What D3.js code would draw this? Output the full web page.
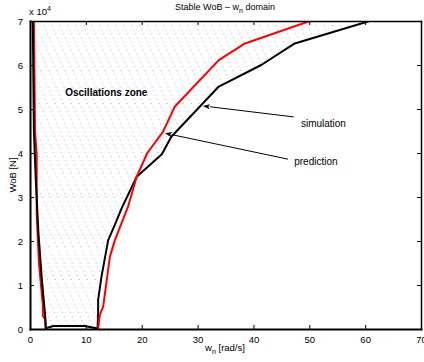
<!DOCTYPE html>
<html>
<head>
<meta charset="utf-8">
<script src="https://cdn.jsdelivr.net/npm/d3@7"></script>
<style>
  html, body { margin: 0; padding: 0; background: #fff; }
  svg { display: block; font-family: "Liberation Sans", Arial, Helvetica, sans-serif; }
</style>
</head>
<body>
<svg id="chart" width="424" height="362"></svg>
<script>
// Simulated stability boundary (w_n in rad/s, WoB in units of 1e4 N)
const simW   = [0.5, 0.7, 1.0, 1.5, 2.1, 2.7, 2.85, 4.2, 9.8, 11.9, 12.1, 12.2, 12.2, 12.8, 14.0, 15.3, 16.4, 19.1, 21.4, 23.6, 25.3, 33.8, 41.4, 47.4, 60.8];
const simWoB = [7.0, 4.5, 3.5, 2.2, 1.16, 0.32, 0.02, 0.07, 0.07, 0.015, 0.02, 0.36, 0.66, 1.19, 2.02, 2.4, 2.74, 3.46, 3.72, 3.97, 4.37, 5.51, 6.0, 6.49, 7.0];

// Predicted boundary, left branch
const predLeftW   = [0.7, 0.9, 1.2, 1.2, 1.6, 2.3, 2.3, 2.7, 2.8];
const predLeftWoB = [7.0, 4.5, 3.95, 2.6, 1.5, 0.55, 0.3, 0.23, 0.0];

// Predicted boundary, right branch
const predRightW   = [50.1, 38.5, 33.8, 25.9, 23.8, 21.0, 19.1, 17.6, 15.2, 14.3, 13.1, 12.5, 12.2];
const predRightWoB = [7.0, 6.49, 6.11, 5.05, 4.48, 4.0, 3.46, 2.8, 2.02, 1.64, 0.51, 0.32, 0.0];

const xTicks = [0, 10, 20, 30, 40, 50, 60, 70];
const yTicks = [0, 1, 2, 3, 4, 5, 6, 7];

// Annotation anchors in data units
const simArrow  = { tail: [47.2, 4.82], head: [30.95, 5.07], text: "simulation", at: [48.5, 4.6] };
const predArrow = { tail: [46.2, 3.86], head: [24.15, 4.45], text: "prediction", at: [47.3, 3.72] };
const zoneLabel = { text: "Oscillations zone", at: [6.3, 5.3] };

const svg = d3.select("#chart");
const pL = 30, pR = 421, pT = 21, pB = 329;

const x = d3.scaleLinear().domain([0, 70]).range([pL, pR]);
const y = d3.scaleLinear().domain([0, 7]).range([pB, pT]);

const toPts = (ws, vs) => ws.map((w, i) => [w, vs[i]]);
const line = d3.line().x(d => x(d[0])).y(d => y(d[1]));

const simPts = toPts(simW, simWoB);

// Hatched oscillation zone: area enclosed by the simulated boundary and the top edge
const defs = svg.append("defs");
defs.append("clipPath").attr("id", "zone")
  .append("path").attr("d", line(simPts) + "Z");
defs.append("clipPath").attr("id", "plot")
  .append("rect").attr("x", pL).attr("y", pT).attr("width", pR - pL).attr("height", pB - pT);

const hatch = svg.append("g").attr("clip-path", "url(#zone)");
const slope = 2.2;       // dy/dx of hatch lines
const gap = 8;           // horizontal spacing
const hh = pB - pT;
for (let sx = pL - hh / slope; sx < pR + 10; sx += gap) {
  hatch.append("line")
    .attr("x1", sx).attr("y1", pT)
    .attr("x2", sx + hh / slope).attr("y2", pB)
    .attr("stroke", "#5a5aff")
    .attr("stroke-width", 0.9)
    .attr("stroke-opacity", 0.6)
    .attr("stroke-dasharray", "1,3.5");
}

// Curves
const curves = svg.append("g").attr("clip-path", "url(#plot)");
curves.append("path").attr("d", line(toPts(predLeftW, predLeftWoB)))
  .attr("fill", "none").attr("stroke", "#ff0000").attr("stroke-width", 2).attr("stroke-linejoin", "round");
curves.append("path").attr("d", line(simPts))
  .attr("fill", "none").attr("stroke", "#000").attr("stroke-width", 2).attr("stroke-linejoin", "round");
curves.append("path").attr("d", line(toPts(predRightW, predRightWoB)))
  .attr("fill", "none").attr("stroke", "#ff0000").attr("stroke-width", 2).attr("stroke-linejoin", "round");

// Axes box with inward ticks
const tickLen = 4;
const axes = svg.append("g");
const xAxisB = d3.axisBottom(x).tickValues(xTicks).tickSize(-tickLen).tickSizeOuter(0).tickPadding(7).tickFormat(d3.format("d"));
const xAxisT = d3.axisTop(x).tickValues(xTicks).tickSize(-tickLen).tickSizeOuter(0).tickFormat("");
const yAxisL = d3.axisLeft(y).tickValues(yTicks).tickSize(-tickLen).tickSizeOuter(0).tickPadding(7).tickFormat(d3.format("d"));
const yAxisR = d3.axisRight(y).tickValues(yTicks).tickSize(-tickLen).tickSizeOuter(0).tickFormat("");

function styleAxis(g, w) {
  g.select(".domain").attr("stroke", "#000").attr("stroke-width", w).attr("stroke-linecap", "square");
  g.selectAll(".tick line").attr("stroke", "#000").attr("stroke-width", 1);
  g.selectAll(".tick text").attr("font-size", 9.5).attr("fill", "#000")
    .attr("font-family", "'Liberation Sans', Arial, sans-serif");
}
axes.append("g").attr("transform", `translate(0,${pT})`).call(xAxisT).call(g => styleAxis(g, 1.5));
axes.append("g").attr("transform", `translate(${pR},0)`).call(yAxisR).call(g => styleAxis(g, 1.5));
axes.append("g").attr("transform", `translate(0,${pB})`).call(xAxisB).call(g => styleAxis(g, 2));
axes.append("g").attr("transform", `translate(${pL},0)`).call(yAxisL).call(g => styleAxis(g, 2));

// Exponent marker
const exp = svg.append("text").attr("x", pL - 1).attr("y", 15)
  .attr("font-size", 9.5).attr("fill", "#000");
exp.append("tspan").text("x 10");
exp.append("tspan").attr("dy", -4).attr("font-size", 7).text("4");

// Title
const title = svg.append("text").attr("x", 225).attr("y", 10)
  .attr("text-anchor", "middle").attr("font-size", 9).attr("fill", "#000");
title.append("tspan").text("Stable WoB \u2013 w");
title.append("tspan").attr("dy", 3).attr("font-size", 7).text("n");
title.append("tspan").attr("dy", -3).text(" domain");

// Axis labels
const xl = svg.append("text").attr("x", 225).attr("y", 351)
  .attr("text-anchor", "middle").attr("font-size", 9.5).attr("fill", "#000");
xl.append("tspan").text("w");
xl.append("tspan").attr("dy", 3).attr("font-size", 7).text("n");
xl.append("tspan").attr("dy", -3).text(" [rad/s]");

svg.append("text").attr("transform", `translate(16,${(pT + pB) / 2}) rotate(-90)`)
  .attr("text-anchor", "middle").attr("font-size", 9.5).attr("fill", "#000").text("WoB [N]");

// Zone label
svg.append("text").attr("x", x(zoneLabel.at[0])).attr("y", y(zoneLabel.at[1]))
  .attr("font-size", 10).attr("font-weight", "bold").attr("fill", "#000").text(zoneLabel.text);

// Annotation arrows
function arrow(a) {
  const [x1, y1] = [x(a.tail[0]), y(a.tail[1])];
  const [x2, y2] = [x(a.head[0]), y(a.head[1])];
  const ang = Math.atan2(y2 - y1, x2 - x1);
  const L = 7, W = 2.6;
  const bx = x2 - L * Math.cos(ang), by = y2 - L * Math.sin(ang);
  svg.append("line").attr("x1", x1).attr("y1", y1).attr("x2", bx).attr("y2", by)
    .attr("stroke", "#000").attr("stroke-width", 1);
  const p1 = [bx + W * Math.sin(ang), by - W * Math.cos(ang)];
  const p2 = [bx - W * Math.sin(ang), by + W * Math.cos(ang)];
  svg.append("path").attr("d", `M${x2},${y2}L${p1}L${bx + 1.5 * Math.cos(ang)},${by + 1.5 * Math.sin(ang)}L${p2}Z`)
    .attr("fill", "#000");
  svg.append("text").attr("x", x(a.at[0])).attr("y", y(a.at[1]))
    .attr("font-size", 10).attr("fill", "#000").text(a.text);
}
arrow(simArrow);
arrow(predArrow);
</script>
</body>
</html>
